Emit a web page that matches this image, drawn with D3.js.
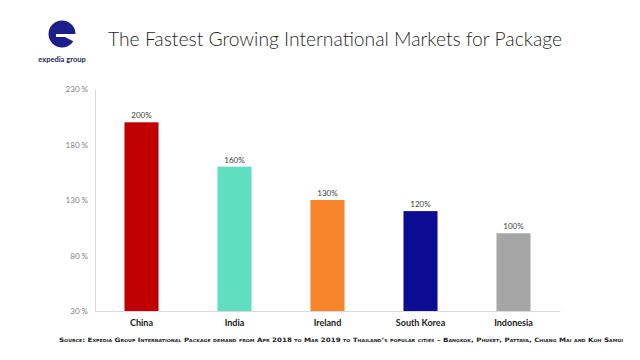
<!DOCTYPE html>
<html>
<head>
<meta charset="utf-8">
<script src="https://cdn.jsdelivr.net/npm/d3@7"></script>
<style>
  html, body { margin: 0; padding: 0; background: #fff; }
  svg { display: block; }
</style>
</head>
<body>
<svg id="chart" width="640" height="360"></svg>
<script>
const categories = ["China", "India", "Ireland", "South Korea", "Indonesia"];
const values = [200, 160, 130, 120, 100];
const valueLabels = ["200%", "160%", "130%", "120%", "100%"];
const yTicks = [30, 80, 130, 180, 230];
const colors = ["#c00000", "#5fdfc0", "#f5842b", "#0c0c93", "#a6a6a6"];
const titleText = "The Fastest Growing International Markets for Package";
const sourceText = "Source: Expedia Group International Package demand from  Apr 2018 to Mar 2019 to Thailand\u2019s popular cities \u2013 Bangkok, Phuket, Pattaya, Chiang Mai and Koh Samui";

const svg = d3.select("#chart");

// Logo
const logo = svg.append("g");
const cx = 62, cy = 34, r = 13.5;
logo.append("circle").attr("cx", cx).attr("cy", cy).attr("r", r).attr("fill", "#1c1f8a");
logo.append("rect").attr("x", cx - 6).attr("y", cy).attr("width", r + 7).attr("height", 3).attr("fill", "#fff");
logo.append("path")
  .attr("d", `M${cx + 3},${cy + 3} L${cx + r + 1},${cy + 3} L${cx + r + 1},${cy + 9} Z`)
  .attr("fill", "#fff");
logo.append("text").attr("x", cx).attr("y", 62).attr("text-anchor", "middle")
  .attr("font-family", "Lato, 'Open Sans', sans-serif").attr("font-size", 7.5).attr("font-weight", 700)
  .attr("fill", "#1c1f5c").text("expedia group");

// Title
svg.append("text").attr("x", 108).attr("y", 46)
  .attr("font-family", "Lato, 'Open Sans', sans-serif").attr("font-weight", 300)
  .attr("font-size", 20).attr("fill", "#1f1f1f")
  .attr("textLength", 454).attr("lengthAdjust", "spacingAndGlyphs")
  .text(titleText);

// Scales
const x = d3.scaleBand().domain(categories).range([95, 560]).paddingInner(0.634).paddingOuter(0.317);
const y = d3.scaleLinear().domain([30, 230]).range([311, 89]);

// Y axis
const yAxis = d3.axisLeft(y).tickValues(yTicks).tickSize(0).tickPadding(7).tickFormat(d => d + " %");
const gy = svg.append("g").attr("transform", "translate(95,0)").call(yAxis);
gy.select(".domain").attr("stroke", "#d9d9d9");
gy.selectAll("text").attr("font-family", "Lato, 'Open Sans', sans-serif").attr("font-size", 8).attr("fill", "#7f7f7f");

// X baseline
const xAxis = d3.axisBottom(x).tickSize(0).tickPadding(9);
const gx = svg.append("g").attr("transform", "translate(0,311)").call(xAxis);
gx.select(".domain").attr("stroke", "#d9d9d9");
gx.selectAll("text").attr("font-family", "Lato, 'Open Sans', sans-serif").attr("font-size", 9)
  .attr("font-weight", 700).attr("fill", "#1a1a1a");

// Bars
svg.append("g").selectAll("rect").data(categories).join("rect")
  .attr("x", d => x(d)).attr("width", x.bandwidth())
  .attr("y", (d, i) => y(values[i])).attr("height", (d, i) => y(30) - y(values[i]))
  .attr("fill", (d, i) => colors[i]);

// Value labels
svg.append("g").selectAll("text").data(categories).join("text")
  .attr("x", d => x(d) + x.bandwidth() / 2).attr("y", (d, i) => y(values[i]) - 4)
  .attr("text-anchor", "middle")
  .attr("font-family", "Lato, 'Open Sans', sans-serif").attr("font-size", 8).attr("fill", "#404040")
  .text((d, i) => valueLabels[i]);

// Source
svg.append("text").attr("x", 59).attr("y", 342)
  .attr("font-family", "'DejaVu Sans', sans-serif").attr("font-weight", 700)
  .attr("font-size", 6).attr("font-variant", "small-caps").attr("fill", "#222")
  .attr("textLength", 564).attr("lengthAdjust", "spacingAndGlyphs")
  .text(sourceText);
</script>
</body>
</html>
